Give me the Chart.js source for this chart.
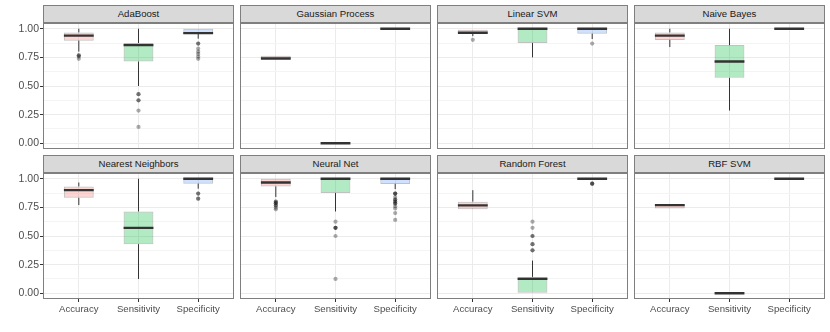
<!DOCTYPE html>
<html>
<head>
<meta charset="utf-8">
<script src="https://cdn.jsdelivr.net/npm/chart.js@4"></script>
<style>
body { margin: 0; background: #fff; width: 830px; height: 332px; position: relative; overflow: hidden; }
.strip { position: absolute; height: 18px; background: #D9D9D9; border: 1px solid #7F7F7F; box-sizing: border-box;
  text-align: center; font-family: "Liberation Sans", Arial, sans-serif; font-size: 9.6px; line-height: 16px; color: #1A1A1A; }
.panel { position: absolute; }
</style>
</head>
<body>
<script>
// facets, one per classifier
const models = ['AdaBoost', 'Gaussian Process', 'Linear SVM', 'Naive Bayes',
                'Nearest Neighbors', 'Neural Net', 'Random Forest', 'RBF SVM'];
const metrics = ['Accuracy', 'Sensitivity', 'Specificity'];
const yTicks = [0, 0.25, 0.5, 0.75, 1];
const yMinor = [0.125, 0.375, 0.625, 0.875];

// box stats per model -> [Accuracy, Sensitivity, Specificity]
const whiskerLow = [
  [0.80, 0.50, 0.913], [0.74, 0, 1], [0.935, 0.75, 0.91], [0.84, 0.2857, 1],
  [0.77, 0.125, 0.913], [0.84, 0.714, 0.909], [0.733, 0, 1], [0.74, 0, 1]
];
const q1 = [
  [0.896, 0.714, 0.955], [0.74, 0, 1], [0.96, 0.875, 0.957], [0.902, 0.571, 1],
  [0.833, 0.429, 0.957], [0.933, 0.875, 0.955], [0.733, 0, 1], [0.74, 0, 1]
];
const median = [
  [0.939, 0.857, 0.962], [0.74, 0, 1], [0.965, 1, 1], [0.939, 0.714, 1],
  [0.90, 0.571, 1], [0.967, 1, 1], [0.767, 0.125, 1], [0.77, 0, 1]
];
const q3 = [
  [0.968, 0.875, 1], [0.765, 0, 1], [0.99, 1, 1], [0.968, 0.857, 1],
  [0.933, 0.714, 1], [1, 1, 1], [0.80, 0.143, 1], [0.77, 0, 1]
];
const whiskerHigh = [
  [1, 1, 1], [0.765, 0, 1], [0.99, 1, 1], [1, 1, 1],
  [0.967, 1, 1], [1, 1, 1], [0.90, 0.2857, 1], [0.77, 0, 1]
];
const outliers = [
  [[0.768, 0.768, 0.757, 0.737], [0.4286, 0.4286, 0.375, 0.375, 0.2857, 0.1429], [0.87, 0.87, 0.826, 0.80, 0.78, 0.757, 0.737]],
  [[], [], []],
  [[0.903], [], [0.87]],
  [[], [], []],
  [[], [], [0.87, 0.87, 0.826, 0.826]],
  [[0.80, 0.80, 0.787, 0.787, 0.767, 0.767, 0.747, 0.733],
   [0.625, 0.571, 0.571, 0.571, 0.5, 0.125],
   [0.87, 0.87, 0.87, 0.84, 0.818, 0.818, 0.80, 0.80, 0.783, 0.783, 0.76, 0.74, 0.70, 0.64]],
  [[], [0.625, 0.571, 0.5, 0.5, 0.4286, 0.4286, 0.375, 0.375], [0.957, 0.957, 0.957]],
  [[], [], []]
];

const fills = ['rgba(248,118,109,0.3)', 'rgba(0,186,56,0.3)', 'rgba(97,156,255,0.3)'];

// layout of the facet grid
const colLeft = [43, 240, 437, 634];
const rowTop = [23, 173];
const panelW = 191, panelH = 126;

Chart.defaults.font.family = '"Liberation Sans", Arial, sans-serif';
Chart.defaults.font.size = 9.6;
Chart.defaults.color = '#4D4D4D';

// ggplot style panel border
const frame = {
  id: 'frame',
  afterDraw(chart) {
    const a = chart.chartArea, c = chart.ctx;
    c.save();
    c.strokeStyle = '#7F7F7F';
    c.lineWidth = 1;
    c.strokeRect(a.left + 0.5, a.top + 0.5, a.right - a.left - 1, a.bottom - a.top - 1);
    c.restore();
  }
};

function isMajor(ctx) { return ctx.tick && yTicks.includes(ctx.tick.value); }
// no label overflow padding, so every panel gets the same plot area
function noPad(s) { s.paddingTop = 0; s.paddingBottom = 0; s.paddingLeft = 0; s.paddingRight = 0; }

models.forEach(function (name, i) {
  var col = i % 4, row = Math.floor(i / 4);
  var left = col == 0 ? 0 : colLeft[col];
  var w = col == 0 ? colLeft[0] + panelW : panelW;
  var top = rowTop[row];
  var h = row == 1 ? 332 - top : panelH;

  var strip = document.createElement('div');
  strip.className = 'strip';
  strip.style.left = colLeft[col] + 'px';
  strip.style.top = (top - 18) + 'px';
  strip.style.width = panelW + 'px';
  strip.textContent = name;
  document.body.appendChild(strip);

  var cv = document.createElement('canvas');
  cv.className = 'panel';
  cv.width = w; cv.height = h;
  cv.style.left = left + 'px'; cv.style.top = top + 'px';
  cv.style.width = w + 'px'; cv.style.height = h + 'px';
  document.body.appendChild(cv);

  // datasets built from the stats arrays
  var boxes = [], whiskers = [], medians = [], points = [];
  metrics.forEach(function (m, k) {
    var x = k + 1;
    boxes.push({ x: x, y: [q1[i][k], q3[i][k]] });
    whiskers.push({ x: x, y: q3[i][k] }, { x: x, y: whiskerHigh[i][k] }, { x: x, y: null },
                  { x: x, y: whiskerLow[i][k] }, { x: x, y: q1[i][k] }, { x: x, y: null });
    medians.push({ x: x - 0.25, y: median[i][k] }, { x: x + 0.25, y: median[i][k] }, { x: x, y: null });
    outliers[i][k].forEach(function (v) { points.push({ x: x, y: v }); });
  });

  new Chart(cv, {
    type: 'bar',
    data: {
      datasets: [{
        type: 'bar', data: boxes, backgroundColor: fills, borderColor: 'rgba(51,51,51,0.3)',
        borderWidth: 1, borderSkipped: false, barPercentage: 0.5, categoryPercentage: 1, order: 2
      }, {
        type: 'line', data: whiskers, borderColor: '#333', borderWidth: 1, pointRadius: 0, spanGaps: false, order: 1
      }, {
        type: 'line', data: medians, borderColor: '#333', borderWidth: 2.3, borderCapStyle: 'butt',
        pointRadius: 0, spanGaps: false, order: 0
      }, {
        type: 'line', data: points, showLine: false, pointRadius: 2.1, pointBorderWidth: 0,
        pointBackgroundColor: 'rgba(0,0,0,0.33)', order: 3
      }]
    },
    options: {
      responsive: false,
      animation: false,
      events: [],
      layout: { padding: 0, autoPadding: false },
      plugins: { legend: { display: false }, tooltip: { enabled: false } },
      scales: {
        x: {
          type: 'linear', min: 0.4, max: 3.6, offset: false,
          afterBuildTicks: function (s) { s.ticks = [1, 2, 3].map(v => ({ value: v })); },
          afterFit: function (s) { s.height = row == 1 ? 33 : 0; noPad(s); },
          ticks: {
            display: row == 1, autoSkip: false, maxRotation: 0, padding: 2, color: '#4D4D4D',
            callback: v => metrics[v - 1]
          },
          grid: { offset: false, color: '#EBEBEB', drawTicks: row == 1, tickLength: 3, tickColor: '#333' },
          border: { display: false }
        },
        y: {
          min: -0.05, max: 1.05,
          afterBuildTicks: function (s) {
            s.ticks = yTicks.concat(yMinor).sort((a, b) => a - b).map(v => ({ value: v }));
          },
          afterFit: function (s) { s.width = col == 0 ? colLeft[0] : 0; noPad(s); },
          ticks: {
            display: col == 0, autoSkip: false, padding: 1, color: '#4D4D4D', font: { size: 10.5 },
            callback: v => yTicks.includes(v) ? v.toFixed(2) : ''
          },
          grid: {
            color: ctx => isMajor(ctx) ? '#EBEBEB' : '#F4F4F4',
            tickColor: ctx => isMajor(ctx) ? '#333' : 'rgba(0,0,0,0)',
            drawTicks: col == 0, tickLength: 3
          },
          border: { display: false }
        }
      }
    },
    plugins: [frame]
  });
});
</script>
</body>
</html>
